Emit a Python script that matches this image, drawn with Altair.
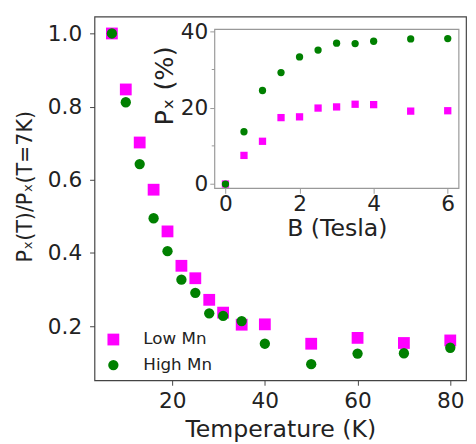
import altair as alt
import pandas as pd

# ---- data ----
series = ["Low Mn", "High Mn"]
temps = [7, 10, 13, 16, 19, 22, 25, 28, 31, 35, 40, 50, 60, 70, 80]
low_mn_ratio = [1.0, 0.847, 0.702, 0.573, 0.459, 0.365, 0.331, 0.272, 0.237, 0.204,
                0.205, 0.152, 0.168, 0.154, 0.161]
high_mn_ratio = [1.0, 0.812, 0.643, 0.495, 0.405, 0.327, 0.291, 0.235, 0.228, 0.214,
                 0.152, 0.096, 0.125, 0.126, 0.141]

fields_b = [0, 0.5, 1, 1.5, 2, 2.5, 3, 3.5, 4, 5, 6]
low_mn_pol = [0, 7.5, 11.2, 17.4, 17.6, 19.9, 20.2, 20.9, 20.8, 19.1, 19.2]
high_mn_pol = [0, 13.7, 24.5, 29.2, 33.3, 35.1, 36.9, 36.8, 37.4, 38.0, 38.1]

x_ticks_main = [20, 40, 60, 80]
y_ticks_main = [0.2, 0.4, 0.6, 0.8, 1.0]
x_ticks_inset = [0, 2, 4, 6]
y_ticks_inset = [0, 20, 40]
y_minor_inset = [10, 30]

main_df = pd.DataFrame({
    "T": temps + temps,
    "ratio": low_mn_ratio + high_mn_ratio,
    "series": [series[0]] * len(temps) + [series[1]] * len(temps),
})
inset_df = pd.DataFrame({
    "B": fields_b + fields_b,
    "P": low_mn_pol + high_mn_pol,
    "series": [series[0]] * len(fields_b) + [series[1]] * len(fields_b),
})
minor_df = pd.DataFrame({"m": y_minor_inset})
frame_df = pd.DataFrame({"a": [0]})

FONT = "DejaVu Sans"
TXT = "#222222"
color_scale = alt.Scale(domain=series, range=["#ff00ff", "#008000"])
shape_scale = alt.Scale(domain=series, range=["square", "circle"])
legend = alt.Legend(title=None, orient="none", legendX=10.7, legendY=320,
                    symbolSize=100, symbolStrokeWidth=0, labelFontSize=17,
                    labelOffset=22, rowPadding=8, padding=0,
                    labelColor=TXT, labelFont=FONT)

main = alt.Chart(main_df).mark_point(filled=True, opacity=1).encode(
    x=alt.X("T:Q",
            scale=alt.Scale(domain=[3.25, 83.4], nice=False, zero=False),
            axis=alt.Axis(values=x_ticks_main, title="Temperature (K)", domain=False,
                          tickSize=5, labelPadding=5.5, labelFontSize=22,
                          titleFontSize=24, titleY=57.2, titleBaseline="alphabetic")),
    y=alt.Y("ratio:Q",
            scale=alt.Scale(domain=[0.052, 1.046], nice=False, zero=False),
            axis=alt.Axis(values=y_ticks_main, format=".1f", title="Pₓ(T)/Pₓ(T=7K)",
                          domain=False, tickSize=5, labelPadding=8, labelFontSize=22,
                          titleFontSize=21, titleX=-70, titleY=172.5, titleAngle=270,
                          titleAlign="center", titleBaseline="middle")),
    color=alt.Color("series:N", scale=color_scale, legend=legend),
    shape=alt.Shape("series:N", scale=shape_scale, legend=legend),
    size=alt.Size("series:N", scale=alt.Scale(domain=series, range=[144, 110]), legend=None),
)

inset_x_scale = alt.Scale(domain=[-0.29, 6.3], range=[122.3, 370.7], nice=False, zero=False)
inset_y_scale = alt.Scale(domain=[-1.13, 40.5], range=[174.7, 13], nice=False, zero=False)
inset_x_axis = alt.Axis(orient="bottom", offset=-195.3, values=x_ticks_inset,
                        title="B (Tesla)", domain=False, tickSize=5, tickColor="#999999",
                        labelPadding=1, labelFontSize=22, titleFontSize=24,
                        titleY=48.3, titleBaseline="alphabetic")
inset_y_axis = alt.Axis(orient="left", offset=-122.3, values=y_ticks_inset,
                        title="Pₓ (%)", domain=False, tickSize=5, tickColor="#999999",
                        labelPadding=2, labelFontSize=22, titleFontSize=26,
                        titleX=-51.3, titleY=70, titleAngle=270, titleAlign="center",
                        titleBaseline="middle")

frame = alt.Chart(frame_df).mark_rect(fill="white", stroke="#999999", strokeWidth=1.2).encode(
    x=alt.value(122.3), x2=alt.value(370.7), y=alt.value(13), y2=alt.value(174.7)
)

inset_pts = alt.Chart(inset_df).mark_point(filled=True, opacity=1, size=55).encode(
    x=alt.X("B:Q", scale=inset_x_scale, axis=inset_x_axis),
    y=alt.Y("P:Q", scale=inset_y_scale, axis=inset_y_axis),
    color=alt.Color("series:N", scale=color_scale, legend=legend),
    shape=alt.Shape("series:N", scale=shape_scale, legend=legend),
)

minor = alt.Chart(minor_df).mark_rule(color="#999999", strokeWidth=1).encode(
    y=alt.Y("m:Q", scale=inset_y_scale, axis=inset_y_axis),
    x=alt.value(119.3), x2=alt.value(122.3),
)

inset = alt.layer(frame, inset_pts, minor)

chart = alt.layer(main, inset).resolve_scale(
    x="independent", y="independent"
).properties(
    width=378, height=370,
    autosize=alt.AutoSizeParams(type="none"),
    padding={"left": 88, "top": 5, "right": 2, "bottom": 61},
).configure_view(
    stroke="#444444", strokeWidth=1.2
).configure_axis(
    grid=False, labelFont=FONT, titleFont=FONT, labelColor=TXT, titleColor=TXT,
    titleFontWeight="normal", tickColor="#444444"
)

chart.save("out.html", embed_options={"renderer": "svg", "actions": False})
